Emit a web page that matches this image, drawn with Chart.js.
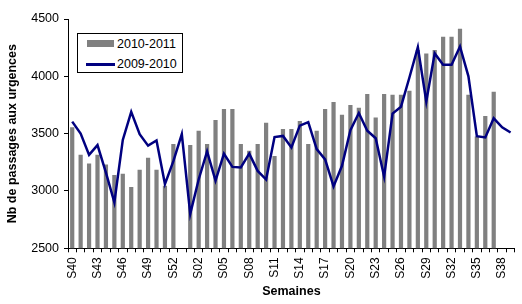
<!DOCTYPE html>
<html>
<head>
<meta charset="utf-8">
<script src="https://cdn.jsdelivr.net/npm/chart.js@4/dist/chart.umd.min.js"></script>
<style>
    html, body {
        margin: 0;
        padding: 0;
        width: 522px;
        height: 304px;
        overflow: hidden;
        background: #fff;
    }
    #wrap {
        position: relative;
        width: 530px;
        height: 304px;
    }
    #legend {
        position: absolute;
        left: 77px;
        top: 33px;
        width: 104px;
        height: 38px;
        border: 1px solid #000;
        background: #fff;
        font-family: Arial, "Liberation Sans", sans-serif;
        font-size: 12.5px;
        color: #000;
    }
    .row {
        position: absolute;
        left: 0;
        height: 14px;
        line-height: 14px;
    }
    .txt {
        position: absolute;
        left: 39px;
        top: 0;
        white-space: nowrap;
    }
    .box {
        position: absolute;
        left: 9px;
        top: 3px;
        width: 27px;
        height: 7px;
        background: #808080;
    }
    .ln {
        position: absolute;
        left: 8px;
        top: 6px;
        width: 29px;
        height: 2.5px;
        background: #000080;
    }
</style>
</head>
<body>
<div id="wrap">
    <canvas id="chart"></canvas>
    <div id="legend">
        <div class="row" style="top:3px"><span class="box"></span><span class="txt">2010-2011</span></div>
        <div class="row" style="top:23px"><span class="ln"></span><span class="txt">2009-2010</span></div>
    </div>
</div>
<script>
/*
 * Data
 */

const weeks = [
    "S40", "S41", "S42", "S43", "S44", "S45", "S46", "S47", "S48", "S49",
    "S50", "S51", "S52", "S53", "S01", "S02", "S03", "S04", "S05", "S06",
    "S07", "S08", "S09", "S10", "S11", "S12", "S13", "S14", "S15", "S16",
    "S17", "S18", "S19", "S20", "S21", "S22", "S23", "S24", "S25", "S26",
    "S27", "S28", "S29", "S30", "S31", "S32", "S33", "S34", "S35", "S36",
    "S37", "S38", "S39"
];

// 2010-2011 (bars), no week 53, stops at S37
const season2010 = [
    3555, 3315, 3240, 3315, 3230, 3140, 3150, 3035, 3185, 3290,
    3185, 3045, 3410, null, 3400, 3525, 3410, 3620, 3715, 3715,
    3410, 3350, 3410, 3595, 3305, 3540, 3540, 3610, 3410, 3525,
    3715, 3775, 3665, 3750, 3725, 3845, 3640, 3845, 3840, 3840,
    3875, 4230, 4200, 4230, 4345, 4345, 4415, 3840, 3475, 3655,
    3865, null, null
];

// 2009-2010 (line)
const season2009 = [
    3605, 3500, 3315, 3400, 3160, 2900, 3445, 3690, 3495, 3395,
    3440, 3060, 3260, 3495, 2800, 3100, 3345, 3090, 3325, 3210,
    3205, 3325, 3175, 3100, 3470, 3480, 3380, 3570, 3600, 3365,
    3275, 3040, 3220, 3530, 3680, 3525, 3460, 3125, 3675, 3735,
    3990, 4255, 3780, 4200, 4100, 4100, 4260, 4000, 3478, 3467,
    3634, 3555, 3510
];

const yMin = 2500;
const yMax = 4500;
const yStep = 500;

document.addEventListener("DOMContentLoaded", () => {

    const font = "Arial, 'Liberation Sans', sans-serif";

    new Chart(document.getElementById("chart"), {
        type: "bar",
        data: {
            labels: weeks,
            datasets: [
                {
                    type: "line",
                    label: "2009-2010",
                    data: season2009,
                    borderColor: "#000080",
                    borderWidth: 2.5,
                    pointRadius: 0,
                    tension: 0,
                    fill: false,
                    order: 0
                },
                {
                    label: "2010-2011",
                    data: season2010,
                    backgroundColor: "#808080",
                    barPercentage: 0.5,
                    categoryPercentage: 1,
                    order: 1
                }
            ]
        },
        options: {
            responsive: true,
            maintainAspectRatio: false,
            animation: false,
            layout: {
                padding: { top: 19, right: 2.5, bottom: 0, left: 0 }
            },
            plugins: {
                legend: { display: false },
                tooltip: { enabled: false }
            },
            scales: {
                x: {
                    afterFit: s => { s.height = 55.7; },
                    border: { display: true, color: "#000", width: 1 },
                    grid: {
                        offset: true,
                        drawOnChartArea: false,
                        drawTicks: true,
                        tickLength: 4,
                        color: "#000"
                    },
                    ticks: {
                        autoSkip: false,
                        maxRotation: 90,
                        minRotation: 90,
                        padding: 5,
                        color: "#000",
                        font: { family: font, size: 12 },
                        callback: function (v, i) {
                            return i % 3 === 0 ? this.getLabelForValue(v) : "";
                        }
                    },
                    title: {
                        display: true,
                        text: "Semaines",
                        color: "#000",
                        font: { family: font, size: 12.5, weight: "bold" },
                        padding: { top: 0, bottom: 5 }
                    }
                },
                y: {
                    min: yMin,
                    max: yMax,
                    afterFit: s => { s.width = 68; },
                    border: { display: true, color: "#000", width: 1 },
                    grid: {
                        drawOnChartArea: false,
                        drawTicks: true,
                        tickLength: 4,
                        color: "#000"
                    },
                    ticks: {
                        stepSize: yStep,
                        padding: 5,
                        color: "#000",
                        font: { family: font, size: 12.5 },
                        callback: v => String(v)
                    },
                    title: {
                        display: true,
                        text: "Nb de passages aux urgences",
                        color: "#000",
                        font: { family: font, size: 12.5, weight: "bold" },
                        padding: { top: 5, bottom: 0 }
                    }
                }
            }
        }
    });

});
</script>
</body>
</html>
